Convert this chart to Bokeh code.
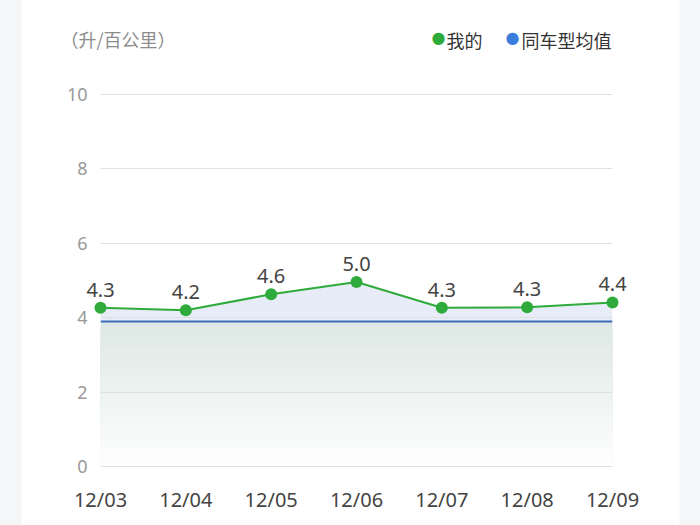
from bokeh.plotting import figure
from bokeh.models import ColumnDataSource, Range1d, FixedTicker
from bokeh.core.properties import value
from bokeh.embed import file_html
from bokeh.resources import INLINE

# ---- data ----
dates = ["12/03", "12/04", "12/05", "12/06", "12/07", "12/08", "12/09"]
mine = [4.27, 4.20, 4.63, 4.96, 4.27, 4.28, 4.41]
avg = [3.9, 3.9, 3.9, 3.9, 3.9, 3.9, 3.9]
y_ticks = [0, 2, 4, 6, 8, 10]
unit_title = "（升/百公里）"
series_names = ["我的", "同车型均值"]

GREEN = "#2eab3b"
BLUE_LINE = "#3d6db6"
BLUE_DOT = "#3b7ddd"
CJK = "Noto Sans CJK SC"
NUM = "Noto Sans"

x = list(range(len(dates)))
src = ColumnDataSource(dict(x=x, mine=mine, avg=avg,
                            lbl=[f"{v:.1f}" for v in mine]))

W, H = 700, 525
ML, MR, MT, MB = 100, 88, 90, 55
Y0, Y1 = -0.1, 10.1
p = figure(width=W, height=H, output_backend="svg", toolbar_location=None,
           x_range=Range1d(0, len(dates) - 1), y_range=Range1d(Y0, Y1),
           min_border_left=ML, min_border_right=MR, min_border_top=MT, min_border_bottom=MB)
p.outline_line_color = None
p.grid.visible = False
p.background_fill_color = "white"
p.border_fill_color = "white"

# pixel -> data helpers for decorations placed outside the frame
def px2x(px):
    return (px - ML) * (len(dates) - 1) / (W - ML - MR)

def py2y(py):
    return Y1 - (py - MT) * (Y1 - Y0) / (H - MT - MB)

# lavender area between average and my series
p.varea(x="x", y1="avg", y2="mine", source=src, fill_color="#e7ecf8")

# gradient under average line (stacked bands, darkest first)
N = 40
top_c = (0xdd, 0xe8, 0xe4)
for k in range(N - 1, -1, -1):
    f = (k + 1) / N
    c = tuple(int(round(255 + (tc - 255) * f)) for tc in top_c)
    p.varea(x=x, y1=[0] * len(avg), y2=[a * f for a in avg],
            fill_color="#%02x%02x%02x" % c)

# gridlines
p.hspan(y=y_ticks, line_color="#e0e0e0", line_width=1)

# average line
p.line(x="x", y="avg", source=src, line_color=BLUE_LINE, line_width=2)

# my series
p.line(x="x", y="mine", source=src, line_color=GREEN, line_width=2, level="overlay")
p.scatter(x="x", y="mine", source=src, size=12, fill_color=GREEN,
          line_color=None, level="overlay")
p.text(x="x", y="mine", text="lbl", source=src, text_align="center",
       text_baseline="alphabetic", y_offset=-18, text_font_size="20px",
       text_color="#444444", text_font=value(NUM), level="overlay")

# axes
p.xaxis.ticker = FixedTicker(ticks=x)
p.xaxis.major_label_overrides = {i: d for i, d in enumerate(dates)}
p.yaxis.ticker = FixedTicker(ticks=y_ticks)
for ax in (p.xaxis, p.yaxis):
    ax.axis_line_color = None
    ax.major_tick_line_color = None
    ax.minor_tick_line_color = None
    ax.major_label_text_font = NUM
p.xaxis.major_label_text_font_size = "20px"
p.xaxis.major_label_text_color = "#444444"
p.xaxis.major_label_standoff = 9
p.yaxis.major_label_text_font_size = "18px"
p.yaxis.major_label_text_color = "#999999"
p.yaxis.major_label_standoff = 7

# card side strips (page background)
p.quad(left=[px2x(-5), px2x(679)], right=[px2x(21), px2x(705)],
       bottom=[py2y(530)] * 2, top=[py2y(-5)] * 2,
       fill_color="#f5f6f8", line_color=None, level="overlay")

# unit title
p.text(x=[px2x(60)], y=[py2y(38)], text=[unit_title], text_align="left",
       text_baseline="middle", text_font_size="18px", text_color="#8c8c8c",
       text_font=value(CJK), level="overlay")

# legend (dot + label)
p.text(x=[px2x(438), px2x(512)], y=[py2y(37)] * 2, text=["●", "●"],
       text_align="center", text_baseline="middle", text_font_size="16px",
       text_color=[GREEN, BLUE_DOT], text_font=value("DejaVu Sans"), level="overlay")
p.text(x=[px2x(446), px2x(521)], y=[py2y(39)] * 2, text=series_names,
       text_align="left", text_baseline="middle", text_font_size="18px",
       text_color="#333333", text_font=value(CJK), level="overlay")

open("out.html", "w").write(file_html(p, INLINE))
